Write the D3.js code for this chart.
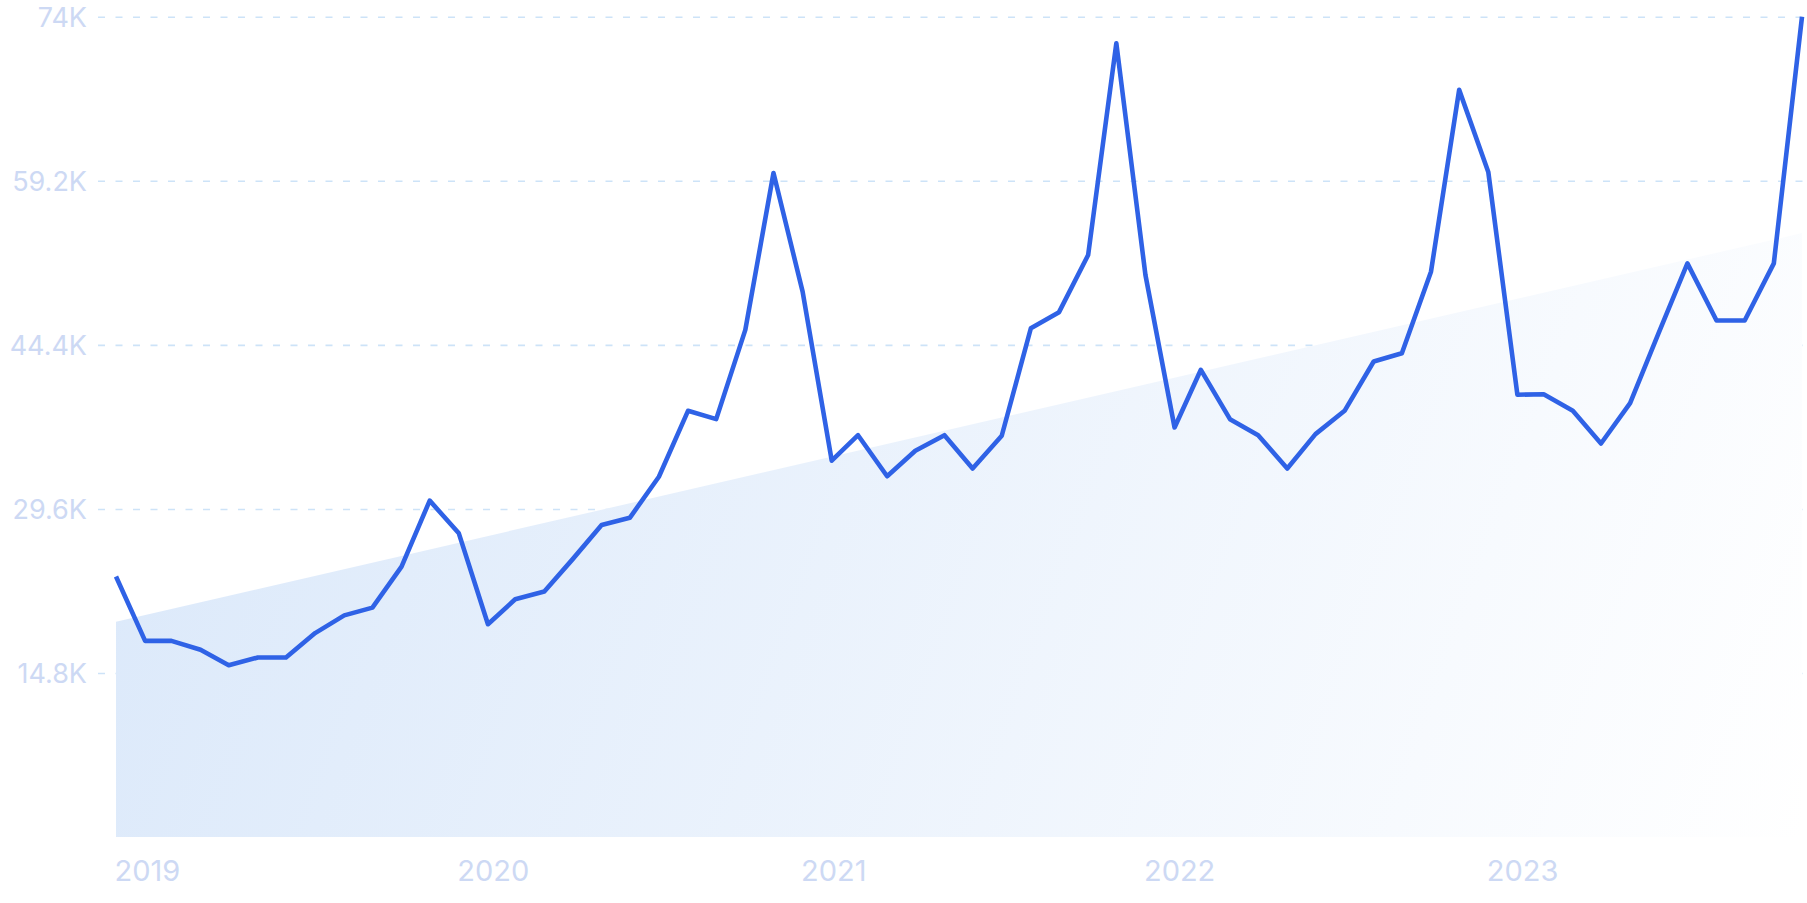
<!DOCTYPE html>
<html>
<head>
<meta charset="utf-8">
<script src="https://cdn.jsdelivr.net/npm/d3@7"></script>
<style>
  html, body { margin: 0; padding: 0; background: #ffffff; }
  svg { display: block; }
  .tick text { font-family: Inter, "Noto Sans", sans-serif; fill: #cdd9f4; }
</style>
</head>
<body>
<div id="chart"></div>
<script>
// monthly values, Jan 2019 .. Dec 2023
const startMonth = "2019-01";
const values = [
  23500, 17700, 17700, 16900, 15500, 16200, 16200, 18400, 20000, 20700, 24400, 30350,
  27400, 19200, 21450, 22150, 25050, 28150, 28800, 32500, 38450, 37700, 45750, 59900,
  49200, 33950, 36250, 32550, 34850, 36250, 33250, 36200, 45900, 47350, 52500, 71600,
  50700, 36950, 42150, 37700, 36250, 33250, 36350, 38450, 42900, 43650, 51000, 67400,
  60000, 39900, 39950, 38450, 35500, 39150, 45400, 51750, 46600, 46600, 51750, 74000
];

// trend band, start and end value
const trendValues = [19430, 54480];

// y axis ticks
const yTicks = [14800, 29600, 44400, 59200, 74000];
const yTickLabels = ["14.8K", "29.6K", "44.4K", "59.2K", "74K"];

// x axis ticks (years)
const xTickYears = [2019, 2020, 2021, 2022, 2023];

const width = 1807;
const height = 903;

const parseMonth = d3.timeParse("%Y-%m");
const first = parseMonth(startMonth);
const data = values.map((v, i) => ({ date: d3.timeMonth.offset(first, i), value: v }));
const last = data[data.length - 1].date;

const x = d3.scaleTime()
    .domain([first, last])
    .range([116, 1802]);

const y = d3.scaleLinear()
    .domain([0, 74000])
    .range([837.1, 16.7]);

const svg = d3.select("#chart").append("svg")
    .attr("width", width)
    .attr("height", height);

// gradient for the trend band
const defs = svg.append("defs");
const grad = defs.append("linearGradient")
    .attr("id", "trendFill")
    .attr("gradientUnits", "userSpaceOnUse")
    .attr("x1", x(first)).attr("y1", y(trendValues[1]))
    .attr("x2", x(last)).attr("y2", y(0));
grad.append("stop").attr("offset", "0%").attr("stop-color", "#dae8fa");
grad.append("stop").attr("offset", "100%").attr("stop-color", "#ffffff");

// grid + y labels
const gridLeft = 98;
const yAxis = svg.append("g")
    .attr("transform", "translate(" + gridLeft + ",0)")
    .call(d3.axisLeft(y)
        .tickValues(yTicks)
        .tickFormat((d, i) => yTickLabels[i])
        .tickSize(-(width - gridLeft))
        .tickPadding(11));
yAxis.select(".domain").remove();
yAxis.selectAll(".tick line")
    .attr("stroke", "#cde3f8")
    .attr("stroke-width", 1.6)
    .attr("stroke-dasharray", "7 10.5");
yAxis.selectAll(".tick text")
    .attr("font-size", 27)
    .attr("dy", "0.35em");

// trend band
const trend = [
    { date: first, value: trendValues[0] },
    { date: last, value: trendValues[1] }
];
svg.append("path")
    .datum(trend)
    .attr("fill", "url(#trendFill)")
    .attr("d", d3.area()
        .x(d => x(d.date))
        .y0(y(0))
        .y1(d => y(d.value)));

// x axis labels
const xAxis = svg.append("g")
    .attr("transform", "translate(0," + y(0) + ")")
    .call(d3.axisBottom(x)
        .tickValues(xTickYears.map(yr => new Date(yr, 0, 1)))
        .tickFormat(d3.timeFormat("%Y"))
        .tickSize(0));
xAxis.select(".domain").remove();
xAxis.selectAll(".tick text")
    .attr("font-size", 29)
    .attr("text-anchor", "start")
    .attr("x", -2)
    .attr("y", 44)
    .attr("dy", 0);

// main line
svg.append("path")
    .datum(data)
    .attr("fill", "none")
    .attr("stroke", "#2f62e6")
    .attr("stroke-width", 4.6)
    .attr("stroke-linejoin", "round")
    .attr("d", d3.line()
        .x(d => x(d.date))
        .y(d => y(d.value)));
</script>
</body>
</html>
